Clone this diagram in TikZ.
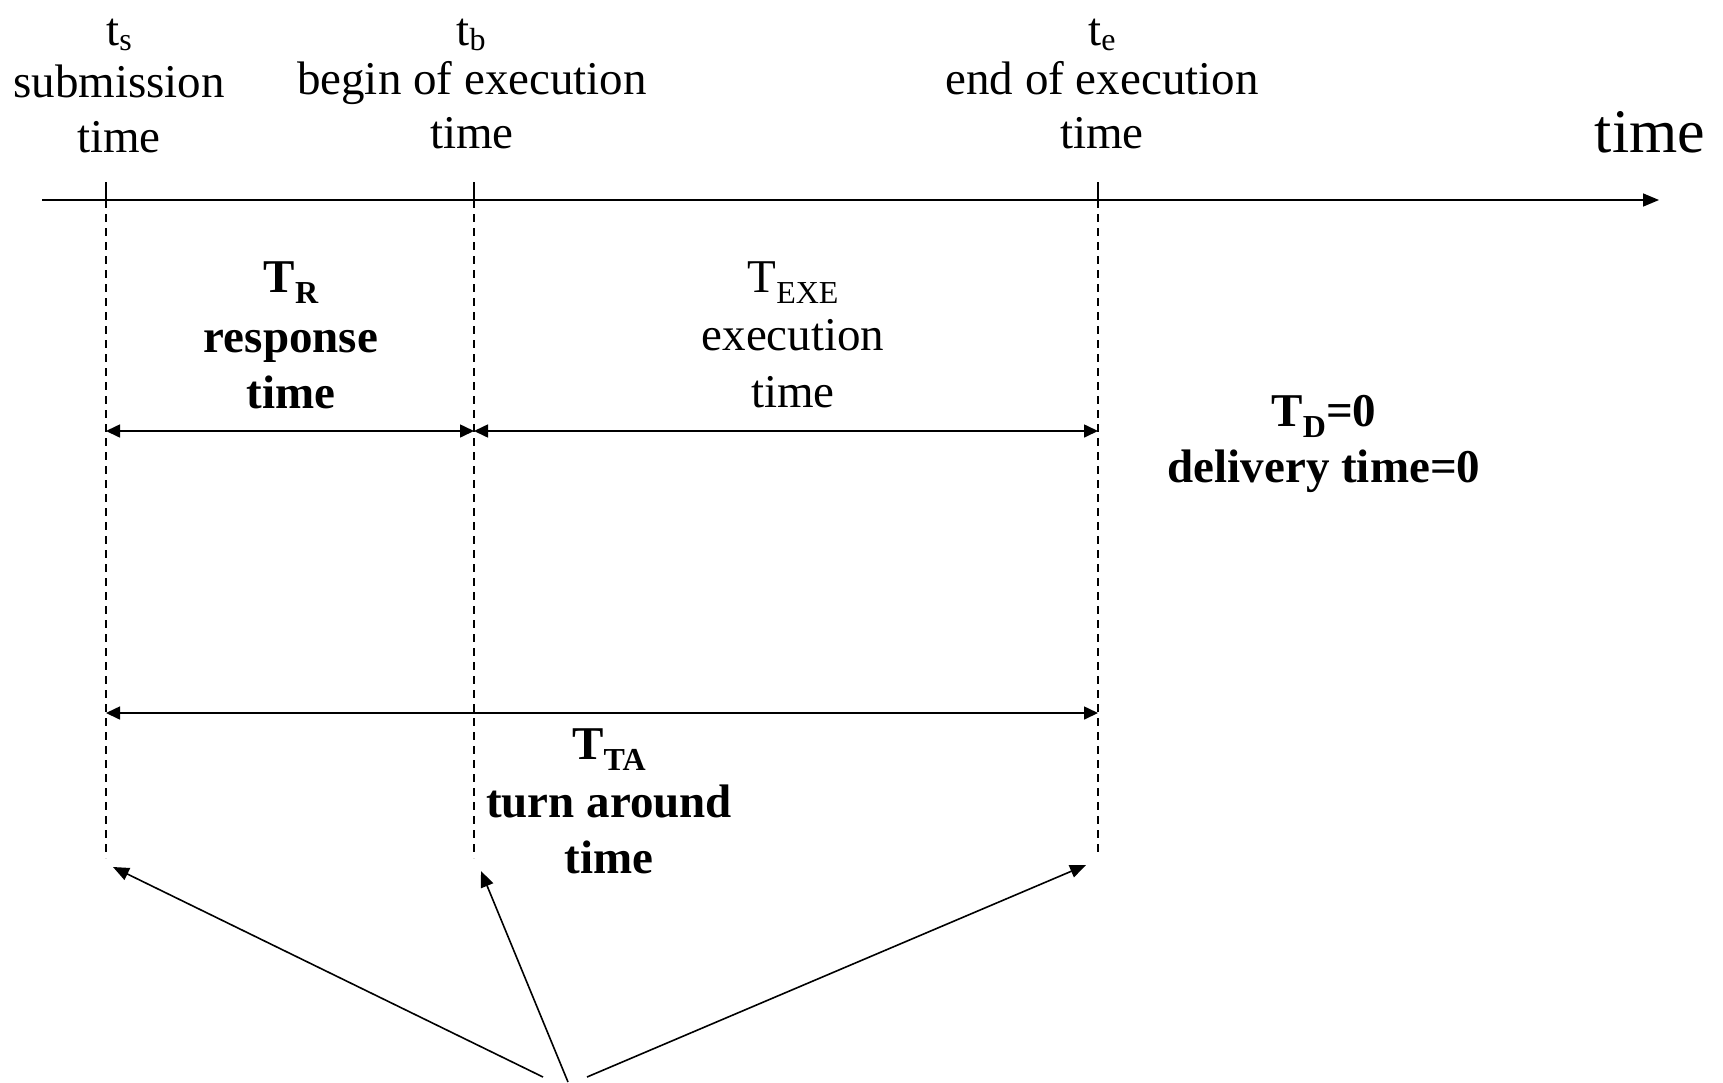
\documentclass[tikz,border=0pt]{standalone}
\usepackage{fontspec}
\setmainfont{Liberation Serif}
\usetikzlibrary{arrows.meta}
\newcommand{\lsub}[2][11pt]{\raisebox{-#1}{\fontsize{32}{32}\selectfont #2}}
\tikzset{
  lbl/.style={anchor=base, inner sep=0pt, font=\fontsize{47}{56}\selectfont},
  blbl/.style={lbl, font=\fontsize{47}{56}\selectfont\bfseries},
  axis/.style={line width=1.6pt, -{Triangle[length=16pt,width=13pt]}},
  dim/.style={line width=1.6pt, {Triangle[length=14pt,width=13pt]}-{Triangle[length=14pt,width=13pt]}},
  guide/.style={line width=1.2pt, dash pattern=on 8pt off 6pt},
  tick/.style={line width=1.4pt},
  pointer/.style={line width=1.6pt, -{Triangle[length=16pt,width=13pt]}}
}
\begin{document}
\begin{tikzpicture}[x=1pt,y=-1pt]
\useasboundingbox (0,0) rectangle (1723,1082);
% axis
\coordinate (a0) at (42,200);
\coordinate (a1) at (1659,200);
\draw[axis] (a0) -- (a1);
% tick points
\coordinate (ts) at (106,200);
\coordinate (tb) at (474,200);
\coordinate (te) at (1098,200);
\coordinate (tsT) at (106,182);
\coordinate (tbT) at (474,182);
\coordinate (teT) at (1098,182);
\coordinate (tsB) at (106,858);
\coordinate (tbB) at (474,858);
\coordinate (teB) at (1098,852);
\draw[tick] (tsT) -- (ts);
\draw[tick] (tbT) -- (tb);
\draw[tick] (teT) -- (te);
\draw[guide] (ts) -- (tsB);
\draw[guide] (tb) -- (tbB);
\draw[guide] (te) -- (teB);
% dimension arrows
\coordinate (r0) at (106,431);
\coordinate (r1) at (474,431);
\coordinate (r2) at (1098,431);
\draw[dim] (r0) -- (r1);
\draw[dim] (r1) -- (r2);
\coordinate (q0) at (106,713);
\coordinate (q1) at (1098,713);
\draw[dim] (q0) -- (q1);
% top labels
\node[lbl] (tsl1) at (119,45) {t\lsub[5pt]{s}};
\node[lbl] (tsl2) at (119,97) {submission};
\node[lbl] (tsl3) at (119,152) {time};
\node[lbl] (tbl1) at (471,45) {t\lsub[5pt]{b}};
\node[lbl] (tbl2) at (472,94) {begin of execution};
\node[lbl] (tbl3) at (472,148) {time};
\node[lbl] (tel1) at (1102,45) {t\lsub[5pt]{e}};
\node[lbl] (tel2) at (1102,94) {end of execution};
\node[lbl] (tel3) at (1102,148) {time};
\node[lbl, font=\fontsize{62}{62}\selectfont] (axl) at (1650,152) {time};
% response time
\node[blbl] (tr1) at (291,292) {T\lsub{\bfseries R}};
\node[blbl] (tr2) at (291,352) {response};
\node[blbl] (tr3) at (291,408) {time};
% execution time
\node[lbl] (te1) at (793,292) {T\lsub{EXE}};
\node[lbl] (te2) at (793,350) {execution};
\node[lbl] (te3) at (793,407) {time};
% delivery
\node[blbl] (td1) at (1324,426) {T\lsub{\bfseries D}=0};
\node[blbl] (td2) at (1324,482) {delivery time=0};
% turn around
\node[blbl] (tt1) at (609,759) {T\lsub{\bfseries TA}};
\node[blbl] (tt2) at (609,817) {turn around};
\node[blbl] (tt3) at (609,873) {time};
% pointers from below
\coordinate (p1) at (543,1077);
\coordinate (p2) at (568,1082);
\coordinate (p3) at (587,1077);
\coordinate (h1) at (113,867);
\coordinate (h2) at (481,871);
\coordinate (h3) at (1086,865);
\draw[pointer] (p1) -- (h1);
\draw[pointer] (p2) -- (h2);
\draw[pointer] (p3) -- (h3);
\end{tikzpicture}
\end{document}
